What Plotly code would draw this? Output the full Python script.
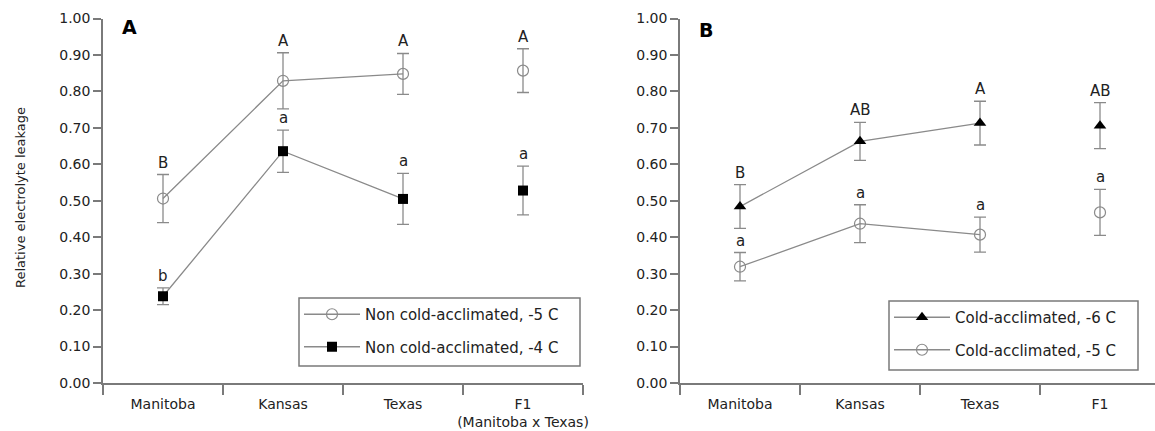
import plotly.graph_objects as go

# Populations on the x axis
categories = ["Manitoba", "Kansas", "Texas", "F1"]
tick_text_a = ["Manitoba", "Kansas", "Texas", "F1<br>(Manitoba x Texas)"]
tick_text_b = ["Manitoba", "Kansas", "Texas", "F1"]

# Panel A: non cold-acclimated plants
nca5_mean = [0.506, 0.829, 0.848, 0.857]
nca5_err = [0.066, 0.077, 0.056, 0.060]
nca5_letters = ["B", "A", "A", "A"]

nca4_mean = [0.238, 0.636, 0.505, 0.528]
nca4_err = [0.023, 0.058, 0.070, 0.067]
nca4_letters = ["b", "a", "a", "a"]

# Panel B: cold-acclimated plants
ca6_mean = [0.484, 0.663, 0.713, 0.706]
ca6_err = [0.060, 0.052, 0.060, 0.063]
ca6_letters = ["B", "AB", "A", "AB"]

ca5_mean = [0.319, 0.437, 0.407, 0.468]
ca5_err = [0.039, 0.052, 0.048, 0.063]
ca5_letters = ["a", "a", "a", "a"]

y_ticks = [i / 10 for i in range(11)]

FONT = "DejaVu Sans, Verdana, sans-serif"
GREY = "#8a8a8a"
AXIS = "#7a7a7a"
TEXT = "#222222"

W, H = 1155, 431


def px_x(p):
    return p / W


def px_y(p):
    return (H - p) / H


def with_gap(vals):
    # F1 is plotted apart from the parental populations: break the line before it
    return list(vals[:3]) + [None] + list(vals[3:])


xs = list(range(len(categories)))

fig = go.Figure()


def add_series(name, mean, err, xaxis, yaxis, legend, marker):
    fig.add_trace(go.Scatter(
        x=with_gap(xs), y=with_gap(mean),
        mode="lines+markers",
        name=name,
        xaxis=xaxis, yaxis=yaxis, legend=legend,
        legendgroup=name,
        line=dict(color=GREY, width=1.3),
        marker=marker,
        error_y=dict(type="data", array=with_gap(err), visible=True,
                     color=GREY, thickness=1.3, width=6),
        cliponaxis=False,
    ))


open_circle = dict(symbol="circle-open", size=11, color=GREY, line=dict(width=1.2, color=GREY))
black_square = dict(symbol="square", size=10, color="#000000")
black_triangle = dict(symbol="triangle-up", size=11, color="#000000")

add_series("Non cold-acclimated, -5 C", nca5_mean, nca5_err, "x", "y", "legend", open_circle)
add_series("Non cold-acclimated, -4 C", nca4_mean, nca4_err, "x", "y", "legend", black_square)
add_series("Cold-acclimated, -6 C", ca6_mean, ca6_err, "x2", "y2", "legend2", black_triangle)
add_series("Cold-acclimated, -5 C", ca5_mean, ca5_err, "x2", "y2", "legend2", open_circle)

# significance letters above each upper error bar
annotations = []


def add_letters(letters, mean, err, xref, yref):
    for x, lab, m, e in zip(xs, letters, mean, err):
        annotations.append(dict(
            x=x, y=m + e, xref=xref, yref=yref, text=lab, showarrow=False,
            yanchor="bottom", yshift=1, font=dict(size=15, color=TEXT, family=FONT)))


add_letters(nca5_letters, nca5_mean, nca5_err, "x", "y")
add_letters(nca4_letters, nca4_mean, nca4_err, "x", "y")
add_letters(ca6_letters, ca6_mean, ca6_err, "x2", "y2")
add_letters(ca5_letters, ca5_mean, ca5_err, "x2", "y2")

# panel labels
annotations.append(dict(x=px_x(129.5), y=px_y(26.5), xref="paper", yref="paper", text="<b>A</b>",
                        showarrow=False, xanchor="center", yanchor="middle",
                        font=dict(size=19, color="#000000", family=FONT)))
annotations.append(dict(x=px_x(706), y=px_y(30), xref="paper", yref="paper", text="<b>B</b>",
                        showarrow=False, xanchor="center", yanchor="middle",
                        font=dict(size=19, color="#000000", family=FONT)))
# y-axis title for the left panel
annotations.append(dict(x=px_x(21), y=px_y(198), xref="paper", yref="paper",
                        text="Relative electrolyte leakage", textangle=-90, showarrow=False,
                        xanchor="center", yanchor="middle",
                        font=dict(size=13, color=TEXT, family=FONT)))

boundaries = [-0.5, 0.5, 1.5, 2.5, 3.5]


def xaxis_cfg(domain, rng, ticktext, anchor):
    return dict(
        domain=domain, range=rng, anchor=anchor, automargin=False,
        showgrid=False, zeroline=False,
        showline=True, linecolor=AXIS, linewidth=1.5,
        tickmode="array", tickvals=xs, ticktext=ticktext,
        ticks="outside", ticklen=7, tickcolor="rgba(0,0,0,0)",
        tickfont=dict(size=14, color=TEXT, family=FONT),
        minor=dict(tickmode="array", tickvals=boundaries, ticks="outside",
                   ticklen=10, tickwidth=1.5, tickcolor=AXIS),
        fixedrange=True,
    )


def yaxis_cfg(anchor):
    return dict(
        domain=[px_y(383), px_y(18.5)], range=[0, 1], anchor=anchor, automargin=False,
        showgrid=False, zeroline=False, showline=True, linecolor=AXIS, linewidth=1.5,
        tickmode="array", tickvals=y_ticks, tickformat=".2f",
        ticks="outside", ticklen=8, tickwidth=1.5, tickcolor=AXIS,
        tickfont=dict(size=14, color=TEXT, family=FONT),
        fixedrange=True,
    )


legend_common = dict(
    xanchor="left", yanchor="top", bgcolor="rgba(255,255,255,0)",
    borderwidth=0,
    font=dict(size=15, color=TEXT, family=FONT),
    tracegroupgap=10, itemwidth=56,
)

# frames around the two legends
legend_boxes = [(299, 298, 580, 366), (889, 301, 1138, 370)]
shapes = [
    dict(type="rect", xref="paper", yref="paper",
         x0=px_x(x0), x1=px_x(x1), y0=px_y(y1), y1=px_y(y0),
         line=dict(color=AXIS, width=1.5), fillcolor="#ffffff", layer="below")
    for x0, y0, x1, y1 in legend_boxes
]

fig.update_layout(
    template="none",
    width=W, height=H,
    margin=dict(l=0, r=0, t=0, b=0, autoexpand=False),
    paper_bgcolor="#ffffff", plot_bgcolor="#ffffff",
    showlegend=True,
    xaxis=xaxis_cfg([px_x(103), px_x(583)], [-0.5, 3.5], tick_text_a, "y"),
    yaxis=yaxis_cfg("x"),
    xaxis2=xaxis_cfg([px_x(680), 1.0], [-0.5, -0.5 + (W - 680) / 120], tick_text_b, "y2"),
    yaxis2=yaxis_cfg("x2"),
    legend=dict(x=px_x(299), y=px_y(298), **legend_common),
    legend2=dict(x=px_x(889), y=px_y(301), **legend_common),
    shapes=shapes,
    annotations=annotations,
)

fig.write_html("out.html")
